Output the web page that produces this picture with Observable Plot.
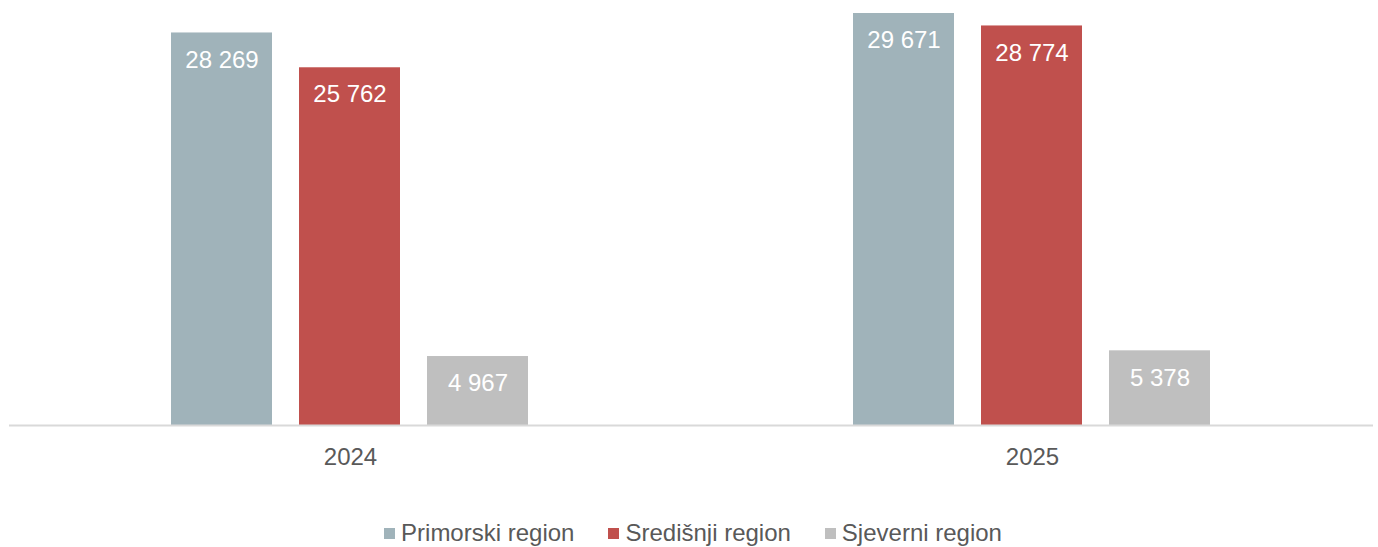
<!DOCTYPE html>
<html>
<head>
<meta charset="utf-8">
<script src="https://cdn.jsdelivr.net/npm/d3@7"></script>
<script src="https://cdn.jsdelivr.net/npm/@observablehq/plot@0.6"></script>
<style>
  body { margin: 0; background: #fff; font-family: "Liberation Sans", Arial, sans-serif; }
  #legend { display: flex; justify-content: center; gap: 34px; font-size: 24px; color: #595959; margin-top: 39px; padding-left: 8px; }
  #legend .item { display: flex; align-items: center; gap: 6px; }
  #legend .sw { width: 11px; height: 11px; display: inline-block; }
</style>
</head>
<body>
<div id="chart"></div>
<div id="legend"></div>
<script>
const years = ["2024", "2025"];
const regions = ["Primorski region", "Središnji region", "Sjeverni region"];
const colors = ["#A0B3BA", "#C0504D", "#BFBFBF"];
const values2024 = [28269, 25762, 4967];
const values2025 = [29671, 28774, 5378];

const data = [];
regions.forEach((r, i) => {
  data.push({year: years[0], region: r, value: values2024[i]});
  data.push({year: years[1], region: r, value: values2025[i]});
});

const fmt = v => d3.format(",")(v).replace(/,/g, " ");

const plot = Plot.plot({
  width: 1378,
  height: 480,
  marginLeft: 8,
  marginRight: 5,
  marginTop: 13,
  marginBottom: 55,
  style: {fontFamily: "'Liberation Sans', Arial, sans-serif", background: "#fff"},
  fx: {domain: years, padding: 0, label: null},
  x: {domain: regions, paddingInner: 0.21, paddingOuter: 1.25, axis: null},
  y: {domain: [0, 29671], axis: null},
  color: {domain: regions, range: colors},
  marks: [
    Plot.barY(data, {fx: "year", x: "region", y: "value", fill: "region"}),
    Plot.ruleY([0], {stroke: "#d9d9d9", strokeWidth: 2}),
    Plot.text(data, {fx: "year", x: "region", y: "value", text: d => fmt(d.value), dy: 27, fill: "white", fontSize: 24}),
    Plot.axisFx({anchor: "bottom", tickSize: 0, tickPadding: 22, fontSize: 24, color: "#595959", label: null})
  ]
});
document.getElementById("chart").appendChild(plot);

const legend = document.getElementById("legend");
regions.forEach((r, i) => {
  const item = document.createElement("div");
  item.className = "item";
  const sw = document.createElement("span");
  sw.className = "sw";
  sw.style.background = colors[i];
  const t = document.createElement("span");
  t.textContent = r;
  item.appendChild(sw);
  item.appendChild(t);
  legend.appendChild(item);
});
</script>
</body>
</html>
